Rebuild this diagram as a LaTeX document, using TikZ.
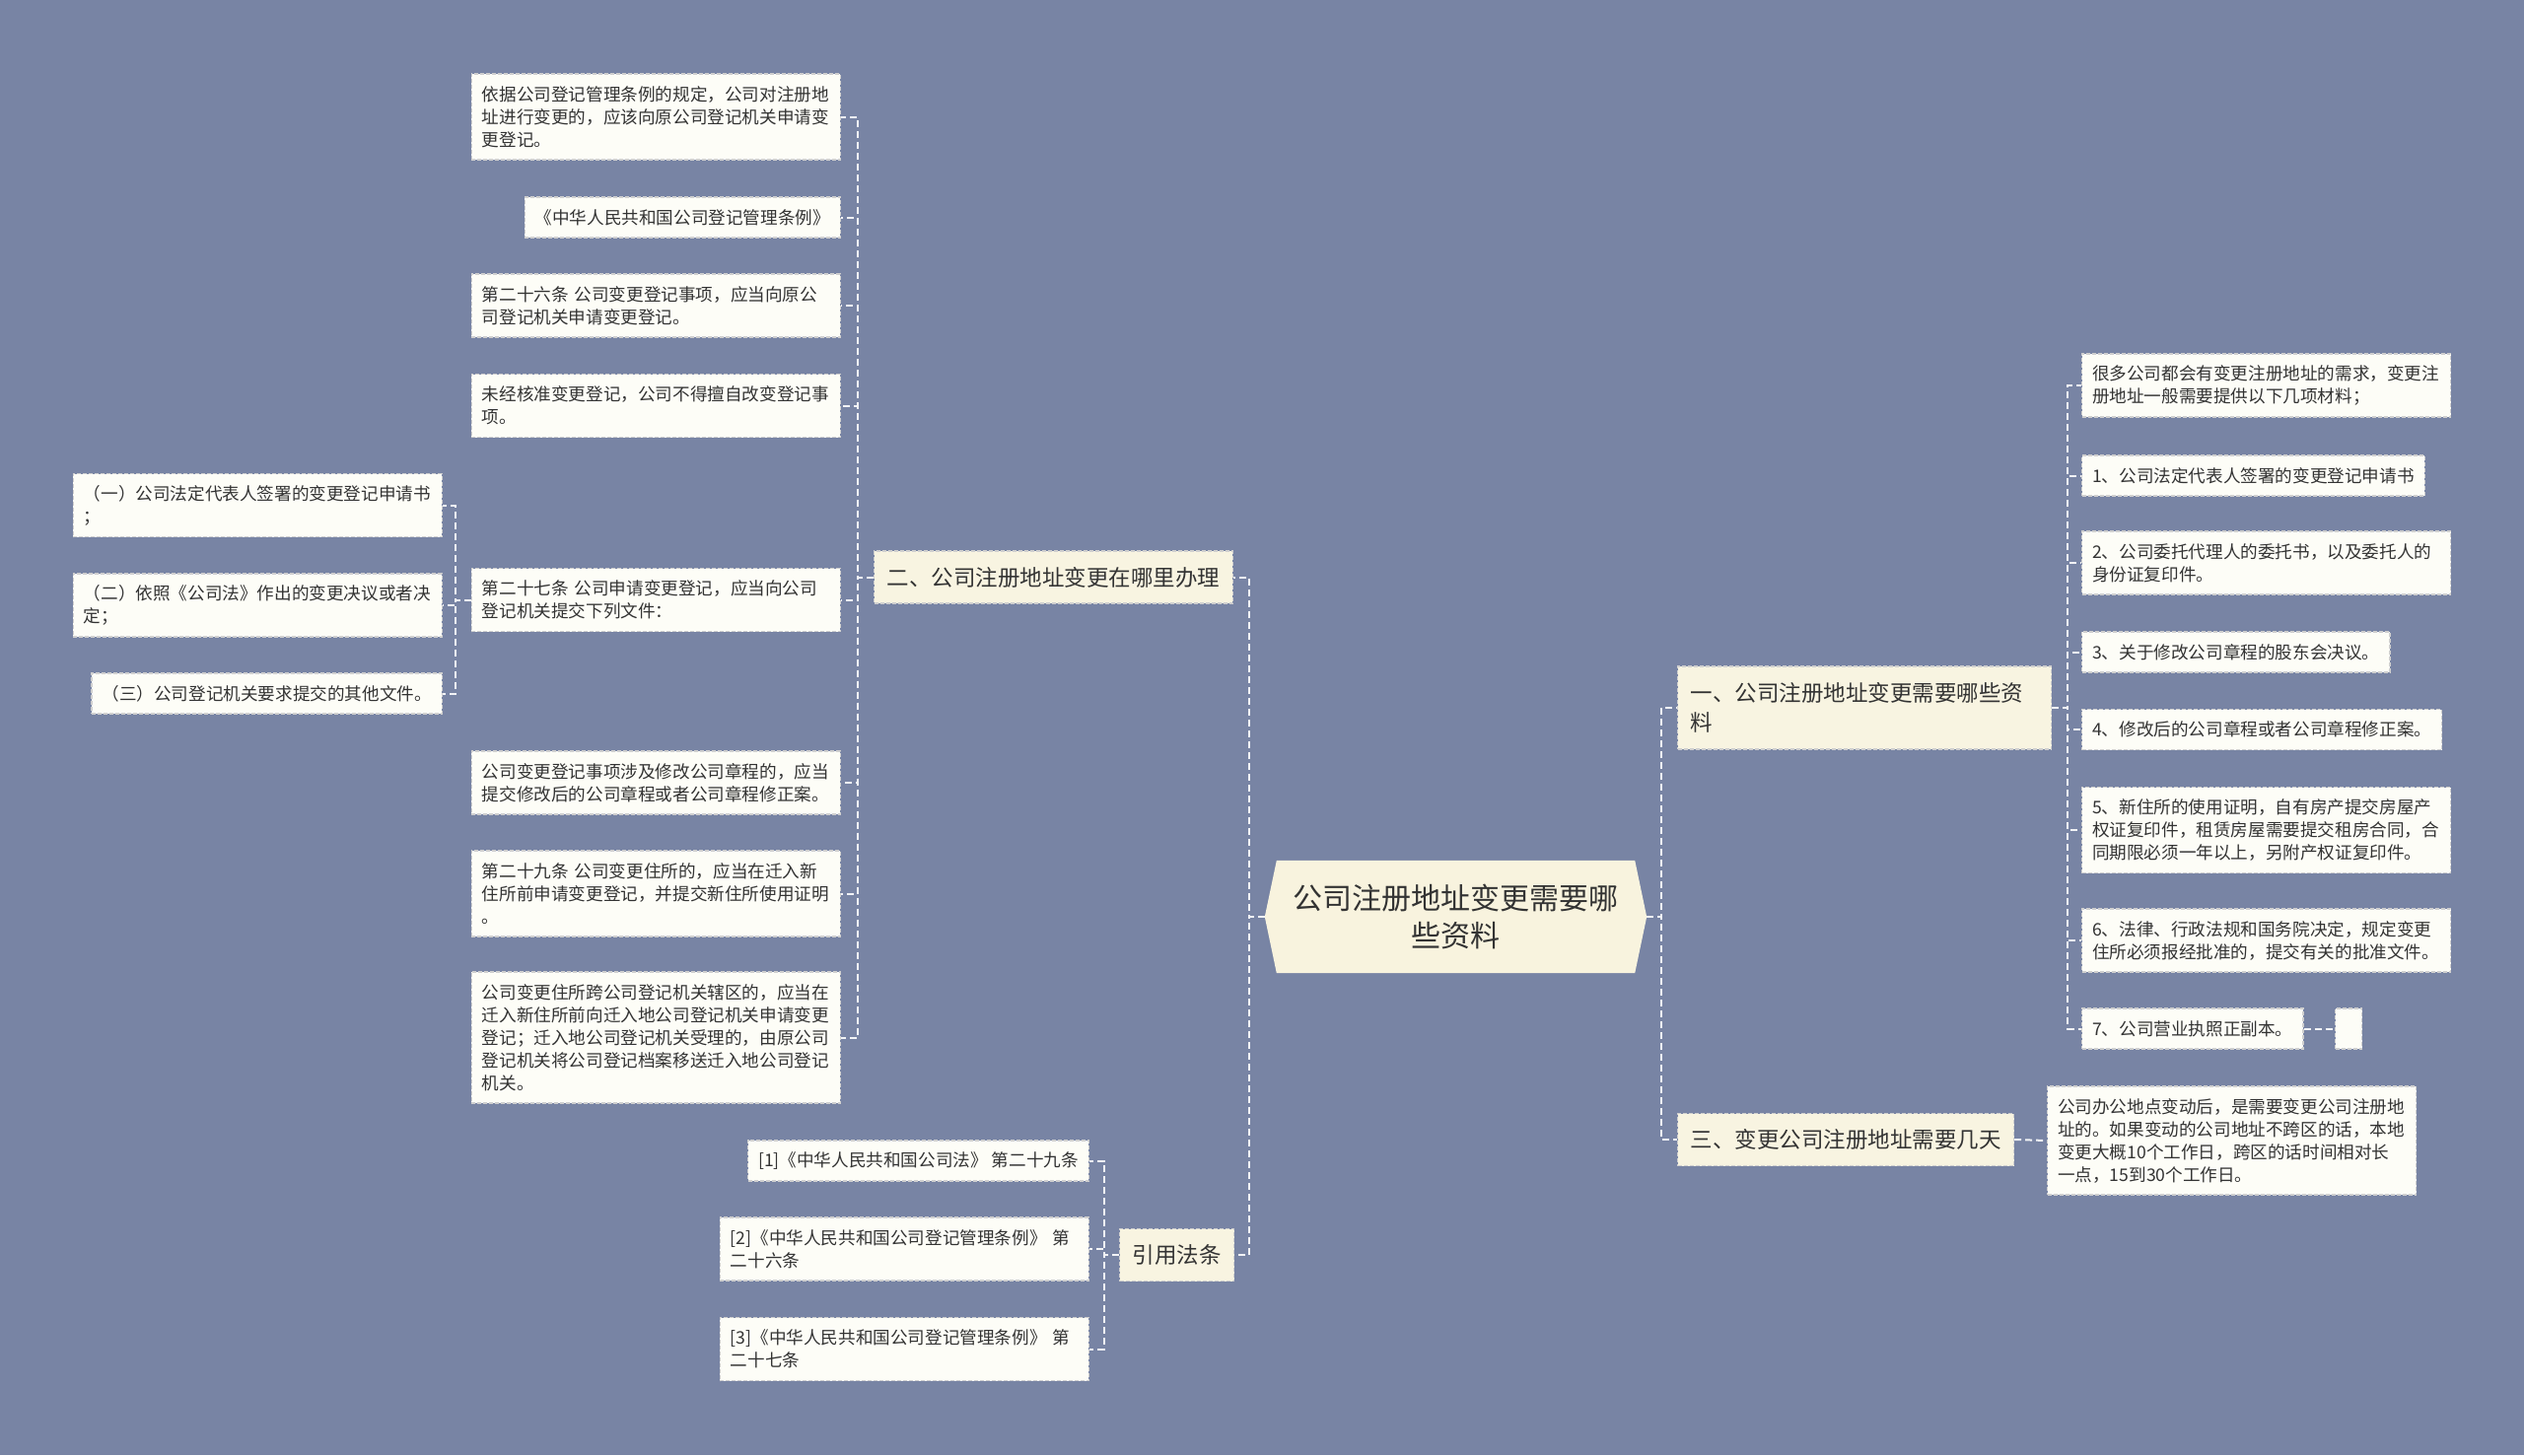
\documentclass[tikz,border=0pt]{standalone}
\usepackage{fontspec}
\setmainfont{Noto Sans CJK SC}
\usetikzlibrary{backgrounds}
\definecolor{bgblue}{HTML}{7884A4}
\definecolor{leaffill}{HTML}{FDFDF7}
\definecolor{branchfill}{HTML}{F8F4E1}
\definecolor{rootfill}{HTML}{F8F3DE}
\definecolor{boxline}{HTML}{CFCFCF}
\definecolor{linkcol}{HTML}{F2F3F6}
\definecolor{inkcol}{HTML}{333333}
\tikzset{
  leaf/.style = {
    draw=boxline, fill=leaffill, line width=1.2pt, dash pattern=on 4pt off 2pt,
    text=inkcol, font=\fontsize{17.6pt}{23pt}\selectfont, align=left,
    inner xsep=10.5pt, inner ysep=3pt, minimum height=41pt
  },
  wideleaf/.style = {leaf, text width=353pt},
  rows/.style = {minimum height={18pt+23pt*#1}},
  branch/.style = {
    draw=boxline, fill=branchfill, line width=1.2pt, dash pattern=on 4pt off 2pt,
    text=inkcol, font=\fontsize{22.5pt}{30pt}\selectfont, align=left,
    inner xsep=13pt, inner ysep=3pt, minimum height=53pt
  },
  rootbox/.style = {
    text=inkcol, font=\fontsize{30pt}{38pt}\selectfont, align=center,
    minimum width=387pt, minimum height=114pt
  },
  link/.style = {draw=linkcol, line width=2pt, dash pattern=on 7pt off 4pt}
}

\begin{document}
\begin{tikzpicture}[x=1pt,y=-1pt]
  \useasboundingbox (0,0) rectangle (2560,1476);
  % root
  \node[rootbox] (root) at (1476.5,930) {公司注册地址变更需要哪\\些资料};
  % where to apply
  \node[branch] (where) at (1068.5,585.5) {二、公司注册地址变更在哪里办理};
  \node[wideleaf, rows=3, anchor=east] (w1) at (853,118.5) {依据公司登记管理条例的规定，公司对注册地\\址进行变更的，应该向原公司登记机关申请变\\更登记。};
  \node[leaf, anchor=east] (w2) at (853,220.5) {《中华人民共和国公司登记管理条例》};
  \node[wideleaf, rows=2, anchor=east] (w3) at (853,310) {第二十六条 公司变更登记事项，应当向原公\\司登记机关申请变更登记。};
  \node[wideleaf, rows=2, anchor=east] (w4) at (853,411.5) {未经核准变更登记，公司不得擅自改变登记事\\项。};
  \node[wideleaf, rows=2, anchor=east] (w5) at (853,608.5) {第二十七条 公司申请变更登记，应当向公司\\登记机关提交下列文件：};
  \node[wideleaf, rows=2, anchor=east] (w6) at (853,794) {公司变更登记事项涉及修改公司章程的，应当\\提交修改后的公司章程或者公司章程修正案。};
  \node[wideleaf, rows=3, anchor=east] (w7) at (853,906.5) {第二十九条 公司变更住所的，应当在迁入新\\住所前申请变更登记，并提交新住所使用证明\\。};
  \node[wideleaf, rows=5, anchor=east] (w8) at (853,1052.5) {公司变更住所跨公司登记机关辖区的，应当在\\迁入新住所前向迁入地公司登记机关申请变更\\登记；迁入地公司登记机关受理的，由原公司\\登记机关将公司登记档案移送迁入地公司登记\\机关。};
  % documents of art. 27
  \node[wideleaf, rows=2, anchor=east] (d1) at (449,512.5) {（一）公司法定代表人签署的变更登记申请书\\；};
  \node[wideleaf, rows=2, anchor=east] (d2) at (449,614) {（二）依照《公司法》作出的变更决议或者决\\定；};
  \node[leaf, anchor=east] (d3) at (449,703.5) {（三）公司登记机关要求提交的其他文件。};
  % cited laws
  \node[branch] (laws) at (1193.5,1273) {引用法条};
  \node[leaf, anchor=east] (r1) at (1105,1177.5) {[1]《中华人民共和国公司法》 第二十九条};
  \node[wideleaf, rows=2, anchor=east] (r2) at (1105,1267) {[2]《中华人民共和国公司登记管理条例》 第\\二十六条};
  \node[wideleaf, rows=2, anchor=east] (r3) at (1105,1368.5) {[3]《中华人民共和国公司登记管理条例》 第\\二十七条};
  % materials
  \node[branch, text width=353pt, minimum height=84pt, anchor=west] (what) at (1701,718) {一、公司注册地址变更需要哪些资\\料};
  \node[wideleaf, rows=2, anchor=west] (m0) at (2111,391) {很多公司都会有变更注册地址的需求，变更注\\册地址一般需要提供以下几项材料；};
  \node[leaf, anchor=west] (m1) at (2111,482.5) {1、公司法定代表人签署的变更登记申请书};
  \node[wideleaf, rows=2, anchor=west] (m2) at (2111,571) {2、公司委托代理人的委托书，以及委托人的\\身份证复印件。};
  \node[leaf, anchor=west] (m3) at (2111,661.5) {3、关于修改公司章程的股东会决议。};
  \node[leaf, anchor=west] (m4) at (2111,740) {4、修改后的公司章程或者公司章程修正案。};
  \node[wideleaf, rows=3, anchor=west] (m5) at (2111,842) {5、新住所的使用证明，自有房产提交房屋产\\权证复印件，租赁房屋需要提交租房合同，合\\同期限必须一年以上，另附产权证复印件。};
  \node[wideleaf, rows=2, anchor=west] (m6) at (2111,954) {6、法律、行政法规和国务院决定，规定变更\\住所必须报经批准的，提交有关的批准文件。};
  \node[leaf, anchor=west] (m7) at (2111,1043.5) {7、公司营业执照正副本。};
  \node[leaf, anchor=west, minimum width=27pt, inner xsep=0pt] (m7x) at (2368,1043.5) {};
  % how many days
  \node[branch, anchor=west] (days) at (1701,1156) {三、变更公司注册地址需要几天};
  \node[wideleaf, rows=4, anchor=west] (dd) at (2076,1157) {公司办公地点变动后，是需要变更公司注册地\\址的。如果变动的公司地址不跨区的话，本地\\变更大概10个工作日，跨区的话时间相对长\\一点，15到30个工作日。};
  % junctions
  \coordinate (jl) at ([xshift=-16pt]root.west);
  \coordinate (jr) at ([xshift=15pt]root.east);
  \coordinate (jw) at ([xshift=-16pt]where.west);
  \coordinate (jw5) at ([xshift=-16pt]w5.west);
  \coordinate (jlaw) at ([xshift=-15pt]laws.west);
  \coordinate (jwhat) at ([xshift=16pt]what.east);
  \begin{scope}[on background layer]
    \fill[bgblue] (0,0) rectangle (2560,1476);
    \fill[rootfill] ([xshift=12pt]root.north west) -- ([xshift=-12pt]root.north east)
      -- (root.east) -- ([xshift=-12pt]root.south east)
      -- ([xshift=12pt]root.south west) -- (root.west) -- cycle;
    % links
    \foreach \n in {where,laws} \draw[link] (root.west) -- (jl) |- (\n.east);
    \foreach \n in {what,days} \draw[link] (root.east) -- (jr) |- (\n.west);
    \foreach \i in {1,...,8} \draw[link] (where.west) -- (jw) |- (w\i.east);
    \foreach \i in {1,2,3} \draw[link] (w5.west) -- (jw5) |- (d\i.east);
    \foreach \i in {1,2,3} \draw[link] (laws.west) -- (jlaw) |- (r\i.east);
    \foreach \i in {0,...,7} \draw[link] (what.east) -- (jwhat) |- (m\i.west);
    \draw[link] (days.east) -- (dd.west);
    \draw[link] (m7.east) -- (m7x.west);
  \end{scope}
\end{tikzpicture}
\end{document}
